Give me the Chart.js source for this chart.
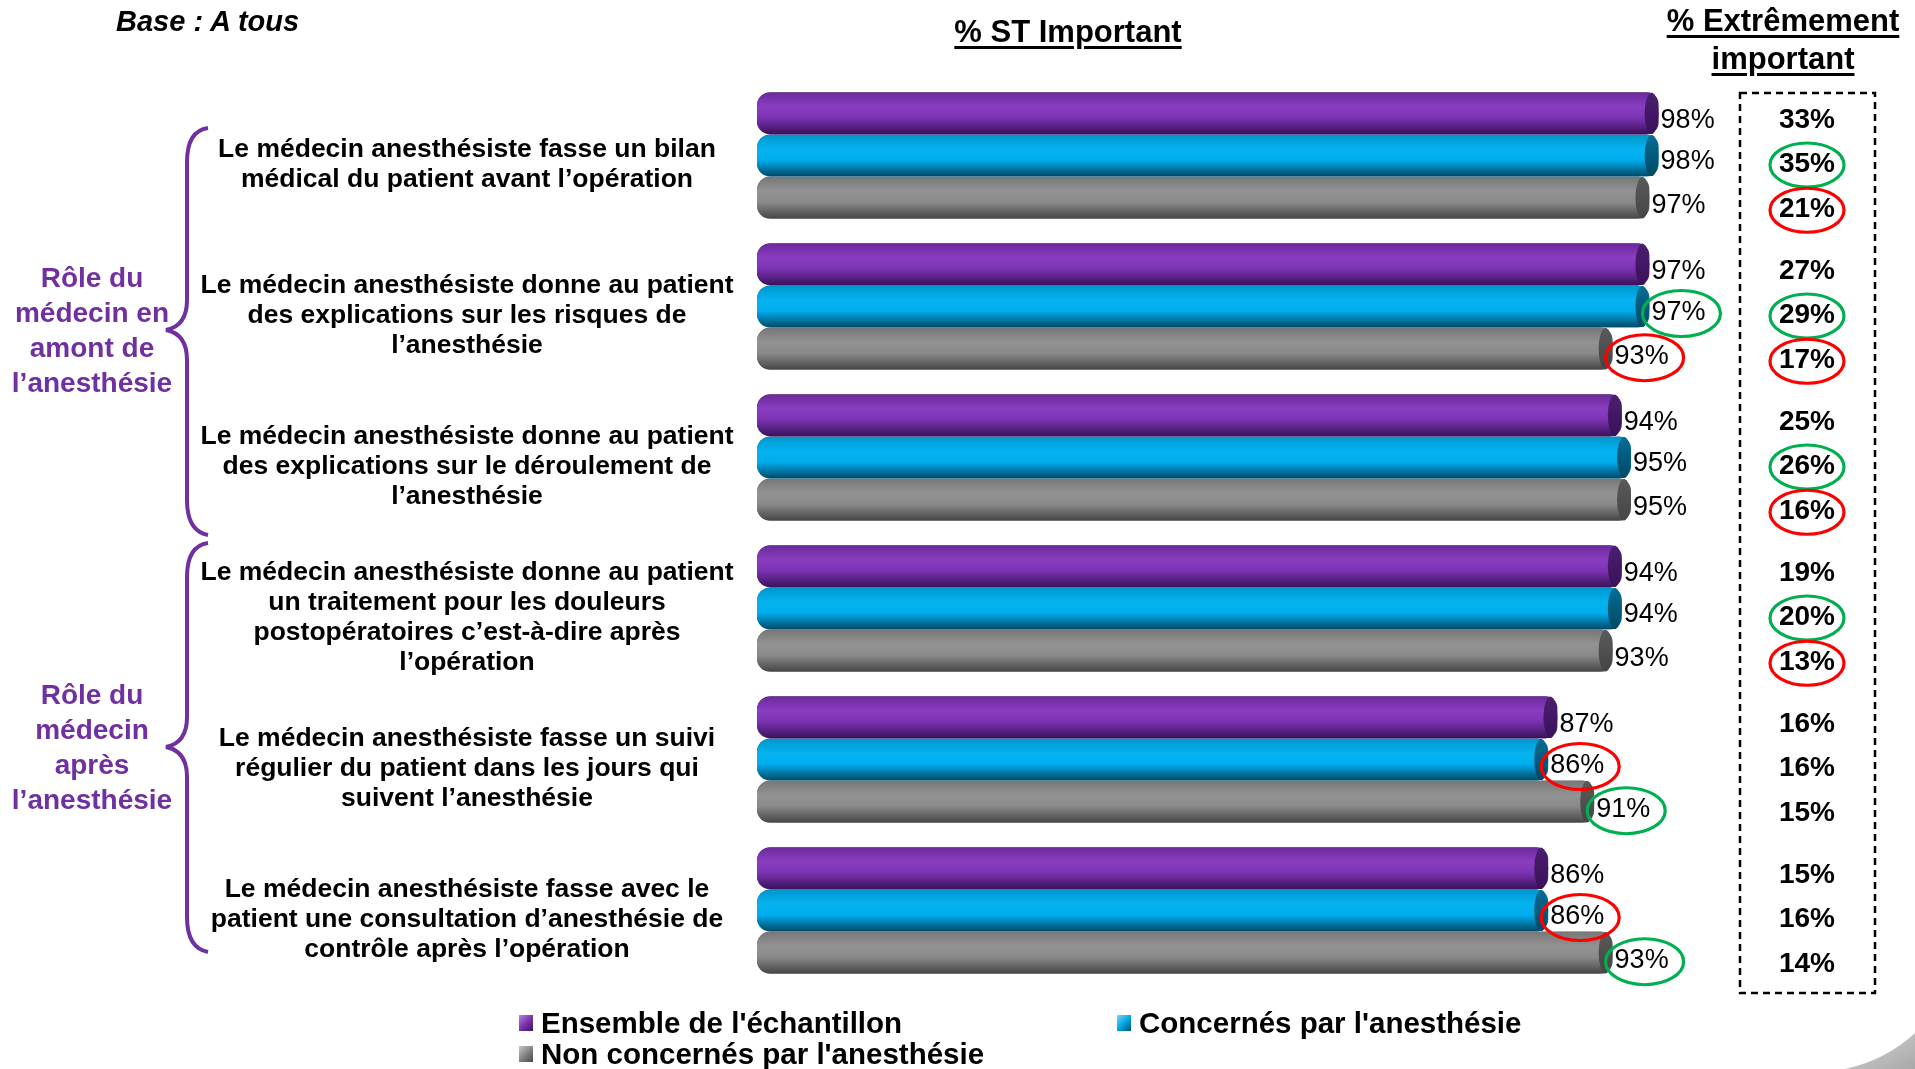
<!DOCTYPE html>
<html lang="fr">
<head>
<meta charset="utf-8">
<title>Rôle du médecin anesthésiste</title>
<script src="https://cdn.jsdelivr.net/npm/chart.js@4.4.1/dist/chart.umd.min.js"></script>
<style>
  html, body { margin: 0; padding: 0; background: #fff; }
  body { width: 1915px; height: 1069px; position: relative; overflow: hidden; font-family: 'Liberation Sans', Arial, sans-serif; }
  #wrap { position: absolute; left: 0; top: 0; width: 1915px; height: 1069px; }
  .txt { position: absolute; white-space: nowrap; font-weight: bold; color: #000; }
  .base { left: 116px; top: 5px; font-size: 29px; font-style: italic; }
  .title { text-decoration: underline; text-decoration-thickness: 3px; text-underline-offset: 4px; font-size: 31px; text-align: center; }
  .group { color: #7030A0; font-size: 28px; line-height: 35px; text-align: center; width: 184px; left: 0; }
  .leg { font-size: 29.5px; line-height: 30px; }
  .mk { position: absolute; width: 14px; height: 16px; }
  svg { position: absolute; left: 0; top: 0; }
</style>
</head>
<body>
<div id="wrap"><canvas id="chart"></canvas></div>

<div class="txt base">Base : A tous</div>
<div class="txt title" style="left:868px; top:14px; width:400px;">% ST Important</div>
<div class="txt title" style="left:1633px; top:2px; width:300px; line-height:38px;">% Extrêmement<br>important</div>

<div class="txt group" style="top:260px;">Rôle du<br>médecin en<br>amont de<br>l’anesthésie</div>
<div class="txt group" style="top:677px;">Rôle du<br>médecin<br>après<br>l’anesthésie</div>

<svg width="1915" height="1069">
  <defs>
    <linearGradient id="sw" x1="0" y1="0" x2="1" y2="1">
      <stop offset="0" stop-color="#d6d6d6"/>
      <stop offset="1" stop-color="#a8a8a8"/>
    </linearGradient>
  </defs>
  <path d="M208 128 Q187 131 187 162 L187 300 Q187 326 166 330 Q187 334 187 360 L187 500 Q187 531 208 535" fill="none" stroke="#7030A0" stroke-width="4"/>
  <path d="M208 543 Q187 546 187 577 L187 717 Q187 743 166 747 Q187 751 187 777 L187 917 Q187 948 208 952" fill="none" stroke="#7030A0" stroke-width="4"/>
  <path d="M1845 1069 Q1886 1060 1915 1033 L1915 1069 Z" fill="url(#sw)"/>
</svg>

<div class="mk" style="left:519px; top:1015px; background:linear-gradient(135deg,#b48ad6,#7a34b0 50%,#3d155e);"></div>
<div class="txt leg" style="left:541px; top:1008px;">Ensemble de l'échantillon</div>
<div class="mk" style="left:1117px; top:1015px; background:linear-gradient(135deg,#7fd6f5,#00a8e6 50%,#005272);"></div>
<div class="txt leg" style="left:1139px; top:1008px;">Concernés par l'anesthésie</div>
<div class="mk" style="left:519px; top:1046px; background:linear-gradient(135deg,#c8c8c8,#858585 50%,#454545);"></div>
<div class="txt leg" style="left:541px; top:1039px;">Non concernés par l'anesthésie</div>

<script>
// Data
const categories = [
    ['Le médecin anesthésiste fasse un bilan', 'médical du patient avant l’opération'],
    ['Le médecin anesthésiste donne au patient', 'des explications sur les risques de', 'l’anesthésie'],
    ['Le médecin anesthésiste donne au patient', 'des explications sur le déroulement de', 'l’anesthésie'],
    ['Le médecin anesthésiste donne au patient', 'un traitement pour les douleurs', 'postopératoires c’est-à-dire après', 'l’opération'],
    ['Le médecin anesthésiste fasse un suivi', 'régulier du patient dans les jours qui', 'suivent l’anesthésie'],
    ['Le médecin anesthésiste fasse avec le', 'patient une consultation d’anesthésie de', 'contrôle après l’opération']
];
const seriesNames = ["Ensemble de l'échantillon", "Concernés par l'anesthésie", "Non concernés par l'anesthésie"];

// % ST Important
const stEnsemble = [98, 97, 94, 94, 87, 86];
const stConcernes = [98, 97, 95, 94, 86, 86];
const stNonConcernes = [97, 93, 95, 93, 91, 93];

// % Extrêmement important
const extEnsemble = [33, 27, 25, 19, 16, 15];
const extConcernes = [35, 29, 26, 20, 16, 16];
const extNonConcernes = [21, 17, 16, 13, 15, 14];

// significance circles: g = green, r = red
const sigStEnsemble = ['', '', '', '', '', ''];
const sigStConcernes = ['', 'g', '', '', 'r', 'r'];
const sigStNonConcernes = ['', 'r', '', '', 'g', 'g'];
const sigExtEnsemble = ['', '', '', '', '', ''];
const sigExtConcernes = ['g', 'g', 'g', 'g', '', ''];
const sigExtNonConcernes = ['r', 'r', 'r', 'r', '', ''];

const extValues = [extEnsemble, extConcernes, extNonConcernes];
const sigSt = [sigStEnsemble, sigStConcernes, sigStNonConcernes];
const sigExt = [sigExtEnsemble, sigExtConcernes, sigExtNonConcernes];

// Styles
const FONT = "'Liberation Sans', Arial, sans-serif";
const SHADES = [
    { base: '#7B33B3', top: '#6A2A9C', mid: '#8A3DC0', bot: '#3A115A', cap: '#4B1F70' },
    { base: '#00AEEF', top: '#0096CC', mid: '#05B3F0', bot: '#004866', cap: '#056E95' },
    { base: '#8A8A8A', top: '#777777', mid: '#939393', bot: '#454545', cap: '#5A5A5A' }
];
const SIG_COLORS = { g: '#00B050', r: '#FF0000' };
const labelDy = [7, 6, 8];
const extDy = [7, 8.5, 11.5];
const EXT_X = 1807;

// tick padding so the label block is centred around x = 467
const tickFont = { family: FONT, size: 26.5, weight: 'bold', lineHeight: '30px' };
const measureCtx = document.createElement('canvas').getContext('2d');
measureCtx.font = 'bold 26.5px ' + FONT;
let widest = 0;
categories.forEach(lines => lines.forEach(l => { widest = Math.max(widest, measureCtx.measureText(l).width); }));
const tickPad = Math.max(4, 757 - 467 - widest / 2);

function ellipse(ctx, cx, cy, rx, ry, color) {
    ctx.save();
    ctx.beginPath();
    ctx.ellipse(cx, cy, rx, ry, 0, 0, Math.PI * 2);
    ctx.lineWidth = 3.2;
    ctx.strokeStyle = color;
    ctx.stroke();
    ctx.restore();
}

const cylinderPlugin = {
    id: 'cylinder',
    afterDatasetsDraw(chart) {
        const ctx = chart.ctx;
        chart.data.datasets.forEach((ds, di) => {
            const meta = chart.getDatasetMeta(di);
            const sh = SHADES[di];
            meta.data.forEach((bar, i) => {
                const { x, y, base, height } = bar.getProps(['x', 'y', 'base', 'height'], true);
                const top = y - height / 2;
                const rx = 7;
                ctx.save();
                const g = ctx.createLinearGradient(0, top, 0, top + height);
                g.addColorStop(0, sh.top);
                g.addColorStop(0.35, sh.mid);
                g.addColorStop(0.6, sh.base);
                g.addColorStop(1, sh.bot);
                ctx.fillStyle = g;
                ctx.beginPath();
                ctx.roundRect(base, top + 0.5, x - rx - base + 1, height - 1, [13, 0, 0, 13]);
                ctx.fill();
                // end cap
                const cg = ctx.createLinearGradient(0, top, 0, top + height);
                cg.addColorStop(0, sh.cap);
                cg.addColorStop(1, sh.bot);
                ctx.fillStyle = cg;
                ctx.beginPath();
                ctx.ellipse(x - rx, y, rx, height / 2 - 0.5, 0, 0, Math.PI * 2);
                ctx.fill();
                ctx.restore();
            });
        });

        // labels
        ctx.save();
        ctx.textBaseline = 'middle';
        chart.data.datasets.forEach((ds, di) => {
            const meta = chart.getDatasetMeta(di);
            meta.data.forEach((bar, i) => {
                const ly = bar.y + labelDy[di];
                const txt = ds.data[i] + '%';
                ctx.font = '27px ' + FONT;
                ctx.fillStyle = '#000';
                ctx.textAlign = 'left';
                const w = ctx.measureText(txt).width;
                const tx = bar.x + 2;
                ctx.fillText(txt, tx, ly);
                const s = sigSt[di][i];
                if (s) ellipse(ctx, tx + w / 2 + 3, ly + 1, 39, 23, SIG_COLORS[s]);

                const ey = bar.y + extDy[di];
                ctx.font = 'bold 28px ' + FONT;
                ctx.textAlign = 'center';
                ctx.fillText(extValues[di][i] + '%', EXT_X, ey);
                const se = sigExt[di][i];
                if (se) ellipse(ctx, EXT_X, ey + 1, 37, 22, SIG_COLORS[se]);
            });
        });
        ctx.restore();

        // dashed box round the "% Extrêmement important" column
        const area = chart.chartArea;
        ctx.save();
        ctx.setLineDash([7, 5]);
        ctx.lineWidth = 2.5;
        ctx.strokeStyle = '#000';
        ctx.strokeRect(1740, area.top + 13, 135, area.bottom - area.top - 6);
        ctx.restore();
    }
};

new Chart(document.getElementById('chart'), {
    type: 'bar',
    data: {
        labels: categories,
        datasets: [
            { label: seriesNames[0], data: stEnsemble, backgroundColor: SHADES[0].cap },
            { label: seriesNames[1], data: stConcernes, backgroundColor: SHADES[1].cap },
            { label: seriesNames[2], data: stNonConcernes, backgroundColor: SHADES[2].cap }
        ]
    },
    options: {
        indexAxis: 'y',
        responsive: true,
        maintainAspectRatio: false,
        animation: false,
        categoryPercentage: 0.839,
        barPercentage: 1.0,
        borderSkipped: false,
        borderRadius: { topLeft: 13, bottomLeft: 13, topRight: 12, bottomRight: 12 },
        layout: { padding: { left: 10, right: 238, top: 80, bottom: 83 } },
        scales: {
            x: { display: false, min: 0, max: 100 },
            y: {
                grid: { display: false, drawTicks: false },
                border: { display: false },
                ticks: {
                    crossAlign: 'center',
                    padding: tickPad,
                    labelOffset: 9,
                    color: '#000',
                    font: tickFont
                },
                afterFit(scale) { scale.width = 747; }
            }
        },
        plugins: {
            legend: { display: false },
            tooltip: { enabled: false }
        }
    },
    plugins: [cylinderPlugin]
});
</script>
</body>
</html>
